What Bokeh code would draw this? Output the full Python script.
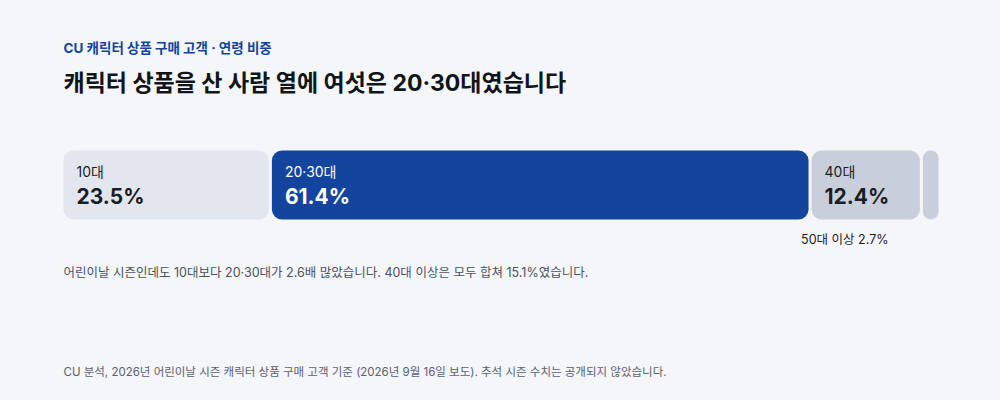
from bokeh.plotting import figure
from bokeh.models import Range1d, ColumnDataSource
from bokeh.core.properties import value
from bokeh.embed import file_html
from bokeh.resources import INLINE

# ---- data ----
groups = ["10대", "20·30대", "40대", "50대 이상"]
shares = [23.5, 61.4, 12.4, 2.7]
bar_colors = ["#e2e7ef", "#13449e", "#c8cfdb", "#c8cfdb"]
label_colors = ["#1a1d24", "#ffffff", "#1a1d24", "#1a1d24"]

kicker = "CU 캐릭터 상품 구매 고객 · 연령 비중"
title = "캐릭터 상품을 산 사람 열에 여섯은 20·30대였습니다"
note = "어린이날 시즌인데도 10대보다 20·30대가 2.6배 많았습니다. 40대 이상은 모두 합쳐 15.1%였습니다."
footer = "CU 분석, 2026년 어린이날 시즌 캐릭터 상품 구매 고객 기준 (2026년 9월 16일 보도). 추석 시즌 수치는 공개되지 않았습니다."

BG = "#f4f6f9"
FONT = value("Inter, 'Noto Sans CJK KR'")

W, H = 984, 384
p = figure(width=W, height=H, output_backend="svg", toolbar_location=None,
           x_range=Range1d(0, W), y_range=Range1d(H, 0),
           min_border=0, background_fill_color=BG, border_fill_color=BG)
p.axis.visible = False
p.grid.visible = False
p.outline_line_color = None

# ---- bar layout (page pixel coordinates) ----
track_left, track_right = 63, 938
px_per_pct = 8.74
gap = 3
bar_top, bar_bottom = 150, 219

lefts, rights = [], []
cum = 0.0
for i, s in enumerate(shares):
    l = track_left + cum * px_per_pct + i * gap
    r = min(l + s * px_per_pct, track_right)
    lefts.append(l)
    rights.append(r)
    cum += s

src = ColumnDataSource(dict(left=lefts, right=rights,
                            top=[bar_top] * len(shares), bottom=[bar_bottom] * len(shares),
                            color=bar_colors))
p.quad(left="left", right="right", top="top", bottom="bottom", source=src,
       fill_color="color", line_color=None, border_radius=10)

# labels inside the big segments
inside = [i for i, s in enumerate(shares) if s >= 5]
lab_src = ColumnDataSource(dict(
    x=[lefts[i] + 13 for i in inside],
    name=[groups[i] for i in inside],
    val=[f"{shares[i]:.1f}%" for i in inside],
    color=[label_colors[i] for i in inside],
    y1=[171] * len(inside), y2=[196] * len(inside)))
p.text(x="x", y="y1", text="name", source=lab_src, text_color="color",
       text_font=FONT, text_font_size="14px", text_baseline="middle")
p.text(x="x", y="y2", text="val", source=lab_src, text_color="color",
       text_font=FONT, text_font_size="21px", text_font_style="bold",
       text_baseline="middle")

# small segment label below
small = [i for i, s in enumerate(shares) if s < 5]
p.text(x=[track_right - 50 for i in small], y=[239] * len(small),
       text=[f"{groups[i]} {shares[i]:.1f}%" for i in small],
       text_color="#1a1d24", text_font=FONT, text_font_size="12.5px",
       text_align="right", text_baseline="middle")

# ---- titles and notes ----
p.text(x=[63], y=[47], text=[kicker], text_color="#13449e", text_font=FONT,
       text_font_size="13.5px", text_font_style="bold", text_baseline="middle")
p.text(x=[63], y=[82], text=[title], text_color="#111418", text_font=FONT,
       text_font_size="23px", text_font_style="bold", text_baseline="middle")
p.text(x=[63], y=[272], text=[note], text_color="#4b5261", text_font=FONT,
       text_font_size="12.5px", text_baseline="middle")
p.text(x=[63], y=[371], text=[footer], text_color="#5a6170", text_font=FONT,
       text_font_size="11.5px", text_baseline="middle")

html = file_html(p, INLINE)
html = html.replace("<body>", '<body style="background:%s;">' % BG)
open("out.html", "w").write(html)
